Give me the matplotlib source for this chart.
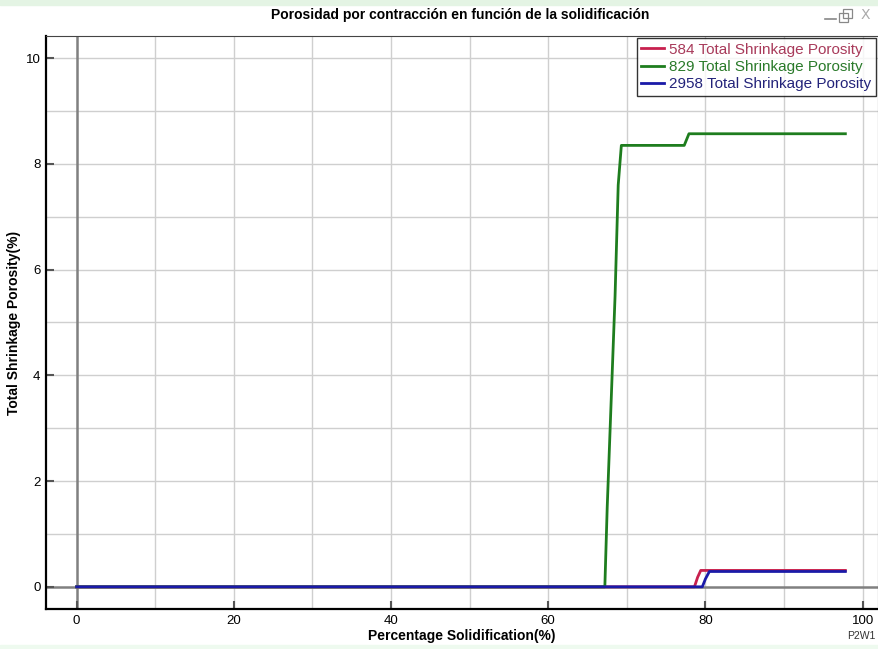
import matplotlib
matplotlib.use("Agg")
import matplotlib.pyplot as plt
from matplotlib.patches import Rectangle
from matplotlib.lines import Line2D

# ---- data ----
red_x = [0, 78.6, 79.0, 79.4, 97.8]
red_y = [0, 0, 0.18, 0.31, 0.31]
green_x = [0, 67.2, 67.5, 68.0, 68.5, 68.9, 69.3, 77.3, 77.9, 97.8]
green_y = [0, 0, 1.5, 3.5, 5.5, 7.6, 8.35, 8.35, 8.57, 8.57]
blue_x = [0, 79.6, 80.0, 80.5, 97.8]
blue_y = [0, 0, 0.15, 0.29, 0.29]
labels = ["584 Total Shrinkage Porosity", "829 Total Shrinkage Porosity",
          "2958 Total Shrinkage Porosity"]
x_ticks = [0, 20, 40, 60, 80, 100]
y_ticks = [0, 2, 4, 6, 8, 10]

c_red = "#c8204e"
c_green = "#1e7d1e"
c_blue = "#1a1aa8"
t_red = "#a83a5a"
t_green = "#2a7a2a"
t_blue = "#23237a"
FAM = ["Liberation Sans", "DejaVu Sans"]

fig = plt.figure(figsize=(8.79, 6.49), dpi=100)
fig.patch.set_facecolor("white")
# light green strips top/bottom
fig.patches.append(Rectangle((0, 0.992), 1, 0.008, transform=fig.transFigure,
                             color="#e4f4e4", zorder=0))
fig.patches.append(Rectangle((0, 0), 1, 0.006, transform=fig.transFigure,
                             color="#eefaef", zorder=0))

ax = fig.add_axes([0.0523, 0.0616, 0.947, 0.883])
ax.set_xlim(-3.9, 102)
ax.set_ylim(-0.42, 10.42)

ax.set_xticks(x_ticks)
ax.set_yticks(y_ticks)
for xv in range(10, 101, 10):
    ax.axvline(xv, color="#cfcfcf", lw=1, zorder=1)
for yv in range(1, 11):
    ax.axhline(yv, color="#cfcfcf", lw=1, zorder=1)
ax.axvline(0, color="#808080", lw=1.8, zorder=1.5)
ax.axhline(0, color="#808080", lw=1.8, zorder=1.5)

ax.plot(red_x, red_y, color=c_red, lw=2, zorder=3)
ax.plot(green_x, green_y, color=c_green, lw=2, zorder=3)
ax.plot(blue_x, blue_y, color=c_blue, lw=2, zorder=4)

for s in ["left", "bottom"]:
    ax.spines[s].set_linewidth(1.6)
    ax.spines[s].set_color("black")
for s in ["top", "right"]:
    ax.spines[s].set_linewidth(0.8)
    ax.spines[s].set_color("#444444")

ax.tick_params(axis="both", direction="in", length=6, width=1.5,
               color="#555555", labelsize=9.5)
ax.tick_params(axis="x", pad=4)
ax.tick_params(axis="y", pad=4)

ax.set_xlabel("Percentage Solidification(%)", fontsize=10, fontweight="bold",
              family=FAM, labelpad=2)
ax.set_ylabel("Total Shrinkage Porosity(%)", fontsize=10, fontweight="bold",
              family=FAM, labelpad=3)
for lab in ax.get_xticklabels() + ax.get_yticklabels():
    lab.set_family(FAM)

handles = [Line2D([], [], color=c_red, lw=2),
           Line2D([], [], color=c_green, lw=2),
           Line2D([], [], color=c_blue, lw=2)]
leg = ax.legend(handles, labels, loc="upper right", bbox_to_anchor=(1.0, 1.0),
                frameon=True, fancybox=False, edgecolor="black",
                handlelength=1.5, handletextpad=0.35, labelspacing=0.2,
                borderpad=0.3, borderaxespad=0.15,
                prop={"family": FAM, "size": 11})
leg.get_frame().set_linewidth(1.0)
for txt, col in zip(leg.get_texts(), [t_red, t_green, t_blue]):
    txt.set_color(col)

fig.text(0.523, 0.977, "Porosidad por contracción en función de la solidificación",
         ha="center", va="center", fontsize=10, fontweight="bold", family=FAM)
fig.text(0.996, 0.012, "P2W1", ha="right", va="bottom", fontsize=7.5,
         color="#333333", family=FAM)

# window icons
fig.add_artist(Line2D([0.939, 0.951], [0.970, 0.970], transform=fig.transFigure,
                      color="#888888", lw=1.2))
fig.add_artist(Rectangle((0.955, 0.966), 0.010, 0.014, transform=fig.transFigure,
                         fill=False, edgecolor="#888888", lw=0.9))
fig.add_artist(Rectangle((0.959, 0.972), 0.010, 0.014, transform=fig.transFigure,
                         fill=False, edgecolor="#888888", lw=0.9))
fig.text(0.985, 0.977, "X", ha="center", va="center", fontsize=10,
         color="#aaaaaa", family=["DejaVu Sans"])

fig.savefig("out.png", dpi=100)
